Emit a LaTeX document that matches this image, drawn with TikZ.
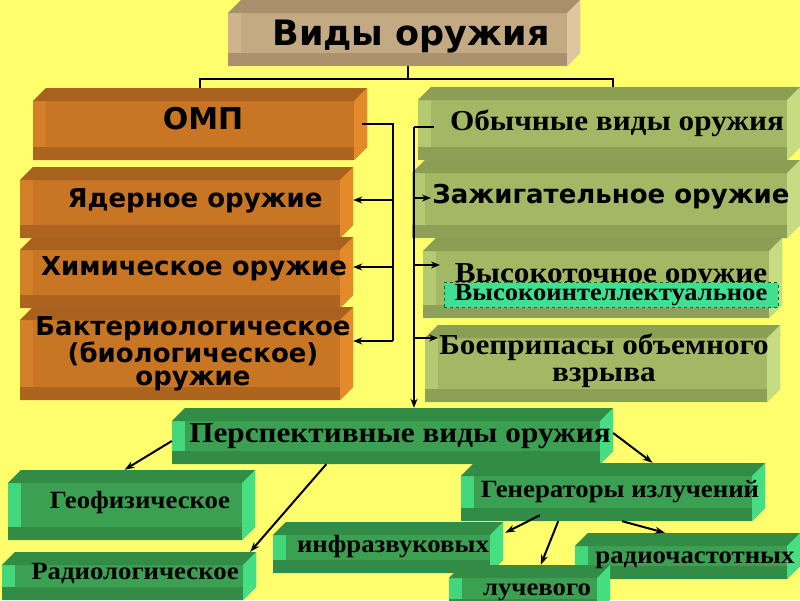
\documentclass[tikz,border=0pt]{standalone}
\usepackage{fontspec}
\setmainfont[FakeStretch=1.08]{Liberation Serif}
\newfontfamily\dvs{DejaVu Sans}
\usetikzlibrary{arrows.meta,calc}
\definecolor{bg}{RGB}{255,255,110}
\definecolor{om}{RGB}{200,118,36}\definecolor{omT}{RGB}{168,98,30}\definecolor{omR}{RGB}{228,138,42}
\definecolor{omB}{RGB}{172,100,30}\definecolor{omL}{RGB}{212,128,40}
\definecolor{tn}{RGB}{196,170,130}\definecolor{tnT}{RGB}{168,144,108}\definecolor{tnR}{RGB}{222,198,158}
\definecolor{tnB}{RGB}{170,146,110}\definecolor{tnL}{RGB}{205,180,140}
\definecolor{ol}{RGB}{163,184,100}\definecolor{olT}{RGB}{138,158,84}\definecolor{olR}{RGB}{198,220,130}
\definecolor{olB}{RGB}{140,160,86}\definecolor{olL}{RGB}{180,202,112}
\definecolor{gr}{RGB}{60,160,82}\definecolor{grT}{RGB}{50,140,70}\definecolor{grR}{RGB}{70,222,130}
\definecolor{grB}{RGB}{50,140,70}\definecolor{grL}{RGB}{66,215,125}
\definecolor{hifill}{RGB}{64,224,144}\definecolor{hidraw}{RGB}{0,110,50}
\newcommand\cubebox[7]{%
 \fill[#7] (#2,#3+#6) -- (#2+#6,#3) -- (#4,#3) -- (#4,#5-#6) -- (#4-#6,#5) -- (#2,#5) -- cycle;
 \fill[#7L] (#2,#3+#6) -- (#2+#6,#3+#6) -- (#2+#6,#5-#6) -- (#2,#5-#6) -- cycle;
 \fill[#7B] (#2,#5-#6) -- (#4-#6,#5-#6) -- (#4-#6,#5) -- (#2,#5) -- cycle;
 \fill[#7T] (#2,#3+#6) -- (#2+#6,#3) -- (#4,#3) -- (#4-#6,#3+#6) -- cycle;
 \fill[#7R] (#4-#6,#3+#6) -- (#4,#3) -- (#4,#5-#6) -- (#4-#6,#5) -- cycle;
 \node[boxn, minimum width={#4-#2}, minimum height={#5-#3}] (#1) at ({(#2+#4)/2},{(#3+#5)/2}) {};
}
\tikzset{
 boxn/.style={inner sep=0pt, draw=none},
 st/.style={inner sep=0pt, anchor=base, font=\dvs\bfseries\fontsize{26}{23}\selectfont},
 rt/.style={inner sep=0pt, anchor=base, font=\bfseries\fontsize{28.9}{27}\selectfont},
 rs/.style={inner sep=0pt, anchor=base, font=\bfseries\fontsize{24.8}{25}\selectfont},
 ln/.style={line width=2.4pt},
 tln/.style={line width=2pt},
 arr/.style={line width=2.4pt, -{Stealth[length=9pt,width=7pt]}},
 darr/.style={line width=2pt, -{Stealth[length=10pt,width=7pt]}},
}
\begin{document}
\begin{tikzpicture}[x=1pt,y=-1pt]
\useasboundingbox (0,0) rectangle (800,600);
\fill[bg] (0,0) rectangle (800,600);
% boxes
\cubebox{vid}{228}{0}{580}{66}{13}{tn}
\cubebox{omp}{33}{88}{367}{160}{13}{om}
\cubebox{yad}{20}{167}{353}{238}{13}{om}
\cubebox{him}{20}{237}{353}{308}{13}{om}
\cubebox{bak}{20}{307}{353}{400}{13}{om}
\cubebox{oby}{418}{87}{800}{160}{13}{ol}
\cubebox{zaj}{412}{160}{800}{238}{13}{ol}
\cubebox{vys}{423}{238}{782}{318}{13}{ol}
\cubebox{boe}{425}{325}{780}{402}{13}{ol}
\cubebox{per}{172}{408}{613}{464}{13}{gr}
\cubebox{geo}{8}{470}{255}{540}{13}{gr}
\cubebox{rad}{2}{552}{256}{600}{13}{gr}
\cubebox{inf}{273}{522}{503}{573}{13}{gr}
\cubebox{gen}{461}{463}{765}{521}{13}{gr}
\cubebox{rch}{575}{533}{800}{579}{13}{gr}
\cubebox{luc}{449}{565}{610}{612}{13}{gr}
% texts
\node[st, font=\dvs\bfseries\fontsize{35}{35}\selectfont] (tvid) at (411,45) {Виды оружия};
\node[st, font=\dvs\bfseries\fontsize{30}{30}\selectfont] (tomp) at (203,129) {ОМП};
\node[st] (tyad) at (195,207) {Ядерное оружие};
\node[st] (thim) at (194,275) {Химическое оружие};
\node[st, anchor=center, align=center] (tbak) at (193,354) {Бактериологическое\\(биологическое)\\оружие};
\node[rt] (toby) at (617,130) {Обычные виды оружия};
\node[st] (tzaj) at (611,203) {Зажигательное оружие};
\node[rt] (tvys) at (611,282) {Высокоточное оружие};
\node[rt, anchor=center, fill=hifill, draw=hidraw, dashed, line width=1pt, minimum width=334pt, minimum height=25pt, font=\bfseries\fontsize{24.6}{25}\selectfont] (thi) at (611,295) {Высокоинтеллектуальное};
\node[rt, anchor=center, align=center] (tboe) at (604,361) {Боеприпасы объемного\\взрыва};
\node[rt] (tper) at (400,442) {Перспективные виды оружия};
\node[rs] (tgeo) at (140,508) {Геофизическое};
\node[rs] (trad) at (135,579) {Радиологическое};
\node[rs] (tinf) at (393,552) {инфразвуковых};
\node[rs] (tgen) at (620,497) {Генераторы излучений};
\node[rs] (trch) at (695,563) {радиочастотных};
\node[rs] (tluc) at (537,595) {лучевого};
% top connector
\coordinate (tj) at (408,79);
\coordinate (tl) at (200,79);
\coordinate (tr) at (613,79);
\draw[tln] (tj |- vid.south) -- (tj);
\draw[tln] (tl |- omp.north) -- (tl) -- (tr) -- (tr |- oby.north);
% left bus
\coordinate (lbt) at (393,124);
\coordinate (lb1) at (393,200);
\coordinate (lb2) at (393,267);
\coordinate (lb3) at (393,341);
\draw[ln] ([xshift=-5pt]lbt -| omp.east) -- (lbt) -- (lb3);
\draw[arr] (lb1) -- (lb1 -| yad.east);
\draw[arr] (lb2) -- (lb2 -| him.east);
\draw[arr] (lb3) -- (lb3 -| bak.east);
% right bus
\coordinate (rbt) at (414,127);
\coordinate (obyin) at (434,127);
\coordinate (rb1) at (414,198);
\coordinate (rb2) at (414,265);
\coordinate (rb3) at (414,338);
\coordinate (zajin) at (431,198);
\coordinate (vysin) at (440,265);
\coordinate (boein) at (438,338);
\draw[ln] (obyin) -- (rbt);
\draw[arr] (rbt) -- (rbt |- per.north);
\draw[arr] (rb1) -- (zajin);
\draw[arr] (rb2) -- (vysin);
\draw[arr] (rb3) -- (boein);
% perspective arrows
\draw[darr] ([yshift=-5pt]per.west) -- ([xshift=-7pt]geo.north);
\draw[darr] ($(per.south west)!0.35!(per.south east)$) -- ([xshift=-6pt]rad.north east);
\draw[darr] ([yshift=3pt]per.east) -- ($(gen.north west)!0.63!(gen.north east)$);
\draw[darr] ([yshift=6pt]$(gen.south west)!0.26!(gen.south east)$) -- ([xshift=2pt,yshift=-11pt]inf.north east);
\draw[darr] ($(gen.south west)!0.32!(gen.south east)$) -- ($(luc.north west)!0.57!(luc.north east)$);
\draw[darr] ($(gen.south west)!0.53!(gen.south east)$) -- ($(rch.north west)!0.4!(rch.north east)$);
\end{tikzpicture}
\end{document}
